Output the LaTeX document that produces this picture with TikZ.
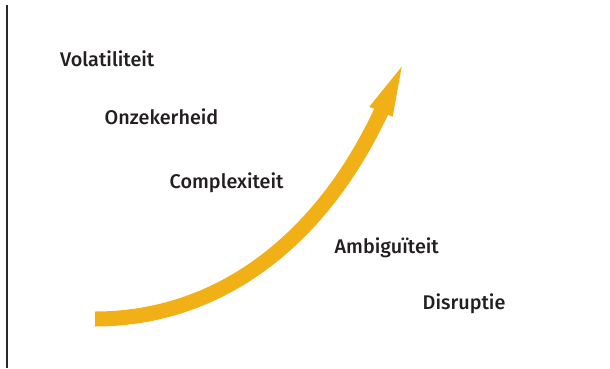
\documentclass[tikz,border=0pt]{standalone}
\usepackage{fontspec}
\setmainfont{Fira Sans}[UprightFont={* Medium}]
\begin{document}
\definecolor{arrowgold}{RGB}{241,176,22}
\definecolor{axisgray}{RGB}{40,40,40}
\definecolor{labeltext}{RGB}{35,31,32}
\begin{tikzpicture}[x=1pt,y=-1pt,
  label/.style={anchor=base west,inner sep=0pt,font=\fontsize{19.8}{23}\selectfont,text=labeltext}]
\useasboundingbox (0,0) rectangle (610,368);
% vertical axis
\coordinate (axtop) at (7,5);
\coordinate (axbot) at (7,368);
\draw[axisgray,line width=2pt] (axtop) -- (axbot);
% labels
\node[label] (vol) at (60,66) {Volatiliteit};
\node[label] (onz) at (104.5,124) {Onzekerheid};
\node[label] (com) at (169.5,188.5) {Complexiteit};
\node[label] (amb) at (334.5,253.5) {Ambiguïteit};
\node[label] (dis) at (422.5,309) {Disruptie};
% rising arrow
\coordinate (start) at (95,319);
\coordinate (shaftend) at (382.5,108.7);
\coordinate (tip) at (401.7,66.7);
\coordinate (barbl) at (369.3,106.7);
\coordinate (barbr) at (392.7,116.7);
\draw[arrowgold,line width=15pt] (start) .. controls (220,319) and (322.5,239.3) .. (shaftend);
\fill[arrowgold] (tip) -- (barbl) -- (barbr) -- cycle;
\end{tikzpicture}
\end{document}
